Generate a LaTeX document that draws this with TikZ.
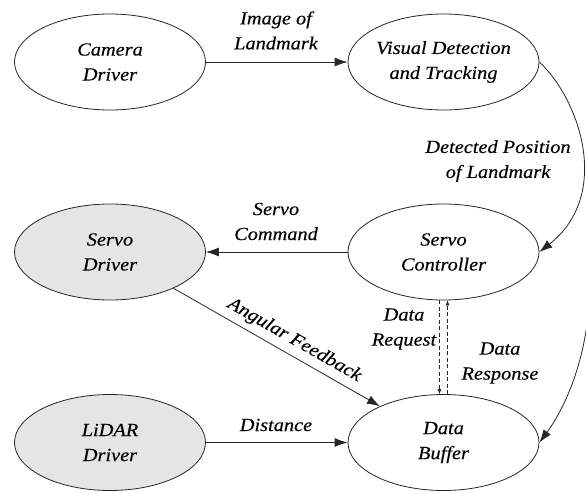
\documentclass[tikz,border=0pt]{standalone}
\usepackage{fontspec}
\setmainfont{Liberation Serif}[FakeStretch=1.1, FakeBold=0.3]
\usetikzlibrary{shapes.geometric,arrows.meta}

\tikzset{
  proc/.style={ellipse, draw=black!85, line width=0.8pt, fill=white,
    minimum width=191pt, minimum height=96pt, inner sep=0pt,
    align=center, font=\fontsize{18.5}{25}\selectfont\itshape},
  hwproc/.style={proc, fill=black!10},
  flow/.style={draw=black!85, line width=0.8pt, -{Latex[length=13pt,width=9pt]}},
  req/.style={draw=black!85, line width=0.7pt, dashed, dash pattern=on 4pt off 2.5pt,
    -{Latex[length=5pt,width=4pt]}},
  lbl/.style={align=center, font=\fontsize{18.5}{25}\selectfont\itshape, inner sep=0pt}
}

\begin{document}
\begin{tikzpicture}[x=1pt, y=-1pt]
  \useasboundingbox (0,0) rectangle (586,493);
  \clip (0,0) rectangle (586,493);

  % processes
  \node[proc]   (cam)  at (110,62)      {Camera\\Driver};
  \node[proc]   (vis)  at (443.5,62)    {Visual Detection\\and Tracking};
  \node[hwproc] (sdrv) at (110,252)     {Servo\\Driver};
  \node[proc]   (ctrl) at (443.5,252)   {Servo\\Controller};
  \node[hwproc] (lid)  at (110,442.5)   {LiDAR\\Driver};
  \node[proc]   (buf)  at (443.5,442.5) {Data\\Buffer};

  % data flows
  \draw[flow] (cam) -- (vis);
  \draw[flow] (ctrl) -- (sdrv);
  \draw[flow] (lid) -- (buf);
  \draw[flow] (sdrv) -- node[lbl, pos=0.55, sloped, above=6pt] {Angular Feedback} (buf);

  \draw[flow] (vis.east) .. controls (580,100) and (612,195) .. (ctrl.east);
  \coordinate (dpOut) at (590,280);
  \draw[flow] (dpOut) .. controls (590,360) and (562,412) .. (buf.east);

  \draw[req] ([xshift=-4pt]ctrl.south) -- ([xshift=-4pt]buf.north);
  \draw[req] ([xshift=4pt]buf.north) -- ([xshift=4pt]ctrl.south);

  % flow labels
  \node[lbl] (lImg)  at (276,30.5)  {Image of\\Landmark};
  \node[lbl] (lCmd)  at (276,221.5) {Servo\\Command};
  \node[lbl] (lDist) at (276,425)   {Distance};
  \node[lbl] (lPos)  at (498,161)   {Detected Position\\of Landmark};
  \node[lbl] (lReq)  at (404,329)   {Data\\Request};
  \node[lbl] (lResp) at (500,363)   {Data\\Response};
\end{tikzpicture}
\end{document}
